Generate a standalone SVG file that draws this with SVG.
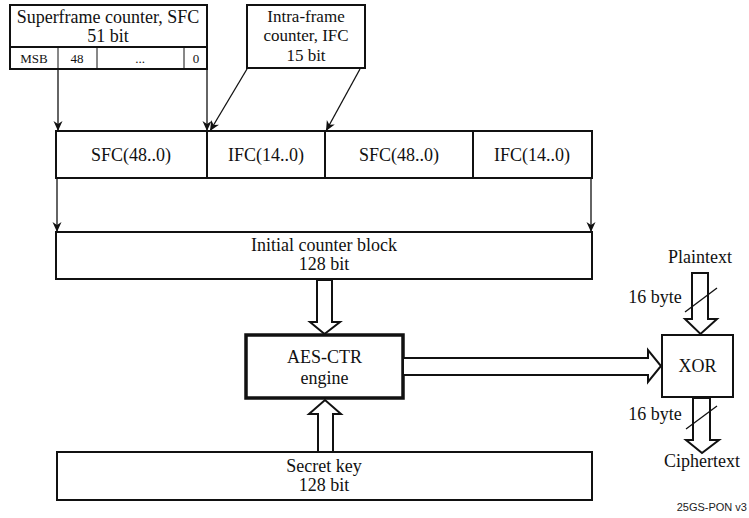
<svg xmlns="http://www.w3.org/2000/svg" width="749" height="518" viewBox="0 0 749 518">
<style>
.t{font-family:"Liberation Serif","Times New Roman",Tinos,serif;font-size:18px;fill:#111;text-anchor:middle}
.t3{font-family:"Liberation Serif","Times New Roman",Tinos,serif;font-size:17px;fill:#111;text-anchor:middle}
.s{font-family:"Liberation Serif","Times New Roman",Tinos,serif;font-size:13px;fill:#111;text-anchor:middle}
.box{fill:#fff;stroke:#111;stroke-width:2}
.thick{fill:#fff;stroke:#111;stroke-width:3.5}
.ln{stroke:#111;stroke-width:1.3;fill:none}
.thin{stroke:#111;stroke-width:1;fill:none}
.ha{fill:#fff;stroke:#111;stroke-width:2;stroke-linejoin:miter}
.lbl{font-family:"Liberation Sans",Arial,sans-serif;font-size:11px;fill:#222;text-anchor:end}
</style>
<defs>
<marker id="ah" viewBox="0 0 10 12" refX="10" refY="6" markerWidth="10" markerHeight="12" markerUnits="userSpaceOnUse" orient="auto">
<path d="M0,1.5 L10,6 L0,10.5 L3,6 Z" fill="#111"/>
</marker>
</defs>
<rect width="749" height="518" fill="#fff"/>
<g id="sfc-counter">
<rect class="box" x="10" y="5" width="197" height="64"/>
<line class="box" x1="10" y1="47" x2="207" y2="47"/>
<line class="thin" x1="58" y1="47" x2="58" y2="69"/>
<line class="thin" x1="97" y1="47" x2="97" y2="69"/>
<line class="thin" x1="184" y1="47" x2="184" y2="69"/>
<text class="t" x="108" y="23">Superframe counter, SFC</text>
<text class="t" x="108" y="42">51 bit</text>
<text class="s" x="34" y="63">MSB</text>
<text class="s" x="77" y="63">48</text>
<text class="s" x="140" y="63">...</text>
<text class="s" x="196" y="63">0</text>
</g>
<g id="ifc-counter">
<rect class="box" x="247" y="5" width="118" height="63"/>
<text class="t3" x="306" y="21.5">Intra-frame</text>
<text class="t3" x="306" y="41">counter, IFC</text>
<text class="t3" x="306" y="60.5">15 bit</text>
</g>
<g id="counter-row">
<rect class="box" x="56" y="131" width="536" height="47"/>
<line class="box" x1="207" y1="131" x2="207" y2="178"/>
<line class="box" x1="325" y1="131" x2="325" y2="178"/>
<line class="box" x1="473" y1="131" x2="473" y2="178"/>
<text class="t" x="131" y="161">SFC(48..0)</text>
<text class="t" x="266" y="161">IFC(14..0)</text>
<text class="t" x="399" y="161">SFC(48..0)</text>
<text class="t" x="532" y="161">IFC(14..0)</text>
</g>
<g id="initial-counter-block">
<rect class="box" x="56" y="232" width="536" height="47"/>
<text class="t" x="324" y="251">Initial counter block</text>
<text class="t" x="324" y="270">128 bit</text>
</g>
<g id="aes-ctr">
<rect class="thick" x="246" y="335" width="157" height="63"/>
<text class="t" x="324.5" y="363">AES-CTR</text>
<text class="t" x="324.5" y="384">engine</text>
</g>
<g id="secret-key">
<rect class="box" x="57" y="452" width="535" height="48"/>
<text class="t" x="324" y="472">Secret key</text>
<text class="t" x="324" y="491">128 bit</text>
</g>
<g id="xor">
<rect class="box" x="662" y="335" width="71" height="62"/>
<text class="t" x="697.5" y="372">XOR</text>
</g>
<g id="connectors">
<line class="ln" x1="58" y1="69" x2="58" y2="131" marker-end="url(#ah)"/>
<line class="ln" x1="207" y1="69" x2="207" y2="131" marker-end="url(#ah)"/>
<line class="ln" x1="247" y1="69" x2="210" y2="131" marker-end="url(#ah)"/>
<line class="ln" x1="360" y1="69" x2="326" y2="131" marker-end="url(#ah)"/>
<line class="ln" x1="57" y1="178" x2="57" y2="232" marker-end="url(#ah)"/>
<line class="ln" x1="591" y1="178" x2="591" y2="232" marker-end="url(#ah)"/>
<polygon class="ha" points="317,280 317,322 310,322 324.5,334 340,322 332,322 332,280"/>
<polygon class="ha" points="318,452 318,414 309,414 325,400 341,414 333,414 333,452"/>
<polygon class="ha" points="403,358 648,358 648,350 661,366 648,382 648,375 403,375"/>
<polygon class="ha" points="692,273 692,319 685,319 700.5,334 717,319 708,319 708,273"/>
<polygon class="ha" points="693,398 693,440 686,440 702,453 719,440 710,440 710,398"/>
<line class="ln" x1="685" y1="312" x2="717" y2="288"/>
<line class="ln" x1="686" y1="429" x2="717" y2="406"/>
</g>
<g id="labels">
<text class="t" x="700" y="263">Plaintext</text>
<text class="t" x="655" y="303">16 byte</text>
<text class="t" x="655" y="420">16 byte</text>
<text class="t" x="702" y="467">Ciphertext</text>
<text class="lbl" x="747" y="511">25GS-PON v3</text>
</g>
</svg>
